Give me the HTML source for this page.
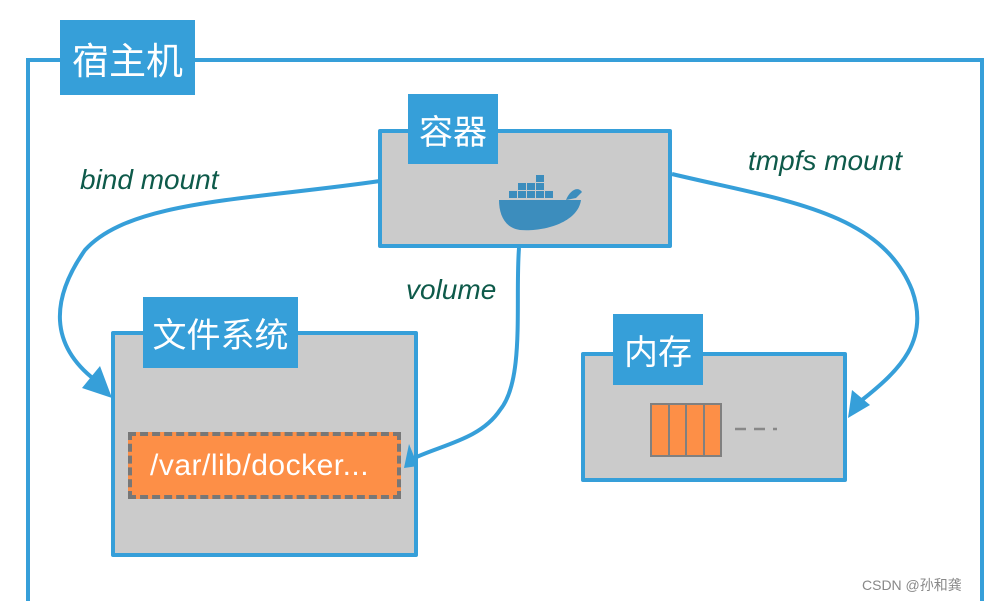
<!DOCTYPE html>
<html><head><meta charset="utf-8"><style>
html,body{margin:0;width:1004px;height:601px;overflow:hidden}
body{background:#fff;position:relative;font-family:"Liberation Sans","Noto Sans CJK SC",sans-serif}
.lbl{position:absolute;background:#369fd9;color:#fff;font-size:32px;display:flex;align-items:center;justify-content:center}
.box{position:absolute;background:#cbcbcb;border:4px solid #369fd9;box-sizing:border-box;border-radius:2px}
.t{position:absolute;color:#0e5a4a;font-style:italic;font-size:28px;font-family:"Liberation Sans",sans-serif}
</style></head><body>
<div style="position:absolute;left:26px;top:58px;width:958px;height:543px;border:4px solid #369fd9;border-bottom:none;box-sizing:border-box"></div>
<div class="lbl" style="left:60px;top:20px;width:135px;height:75px;font-size:37px">宿主机</div>

<div class="box" style="left:378px;top:129px;width:294px;height:119px"></div>
<div class="lbl" style="left:408px;top:94px;width:90px;height:70px;font-size:34px">容器</div>

<div class="box" style="left:111px;top:331px;width:307px;height:226px"></div>
<div class="lbl" style="left:143px;top:297px;width:155px;height:71px;font-size:34px">文件系统</div>
<div style="position:absolute;left:128px;top:432px;width:273px;height:67px;background:#fd8f47;border:4px dashed #777;box-sizing:border-box;color:#fff;font-size:30px;letter-spacing:0.5px;display:flex;align-items:center;padding-left:18px;white-space:nowrap">/var/lib/docker...</div>

<div class="box" style="left:581px;top:352px;width:266px;height:130px"></div>
<div class="lbl" style="left:613px;top:314px;width:90px;height:71px;font-size:34px">内存</div>
<div style="position:absolute;left:650px;top:403px;width:72px;height:54px;background:#808080;display:flex;gap:2px;padding:2px;box-sizing:border-box">
<div style="flex:1;background:#fd8f47"></div><div style="flex:1;background:#fd8f47"></div><div style="flex:1;background:#fd8f47"></div><div style="flex:1;background:#fd8f47"></div></div>
<svg style="position:absolute;left:735px;top:426px" width="45" height="6"><g stroke="#888" stroke-width="2.5"><line x1="0" y1="3" x2="11" y2="3"/><line x1="19" y1="3" x2="30" y2="3"/><line x1="38" y1="3" x2="42" y2="3"/></g></svg>

<div class="t" style="left:80px;top:164px">bind mount</div>
<div class="t" style="left:406px;top:274px">volume</div>
<div class="t" style="left:748px;top:145px">tmpfs mount</div>
<div style="position:absolute;left:862px;top:575px;color:#888;font-size:14px">CSDN @孙和龚</div>

<svg width="1004" height="601" style="position:absolute;left:0;top:0" fill="none">
<g stroke="#369fd9" stroke-width="4">
<path d="M380 181 C 250 200, 130 200, 85 250 C 50 300, 50 345, 95 380"/>
<path d="M519 248 C 515 300, 525 380, 500 410 C 480 440, 440 445, 410 460"/>
<path d="M672 174 C 780 200, 880 210, 912 290 C 930 340, 900 370, 862 400"/>
</g>
<g fill="#369fd9">
<polygon points="112,398 82,388 100,366"/>
<polygon points="404,468 409,444 418,466"/>
<polygon points="848,418 852,390 870,405"/>
</g>
<g fill="#3c8dbd">
<path d="M499 200 L581 200 C 578 222, 545 232, 520 230 C 505 228, 499 215, 499 200 Z"/>
<path d="M566 200 C 570 190, 578 186, 582 192 L576 198 Z"/>
<rect x="509" y="191" width="8" height="7"/><rect x="518" y="191" width="8" height="7"/><rect x="527" y="191" width="8" height="7"/><rect x="536" y="191" width="8" height="7"/><rect x="545" y="191" width="8" height="7"/>
<rect x="518" y="183" width="8" height="7"/><rect x="527" y="183" width="8" height="7"/><rect x="536" y="183" width="8" height="7"/>
<rect x="536" y="175" width="8" height="7"/>
</g>
</svg>
</body></html>
